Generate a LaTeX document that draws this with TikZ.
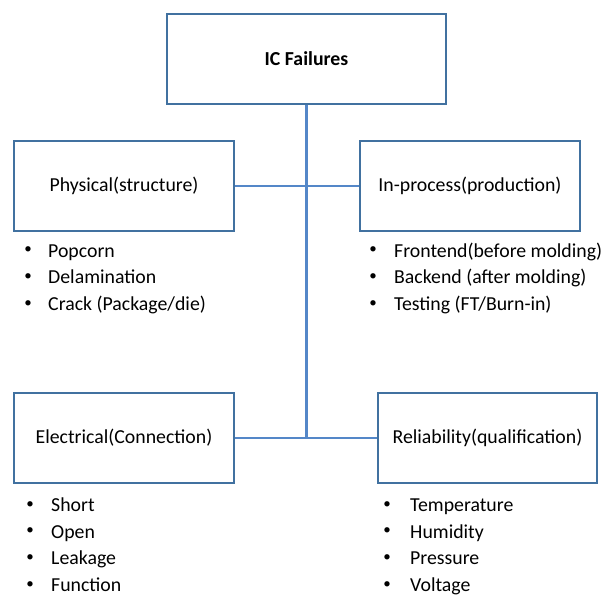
\documentclass[tikz,border=0pt]{standalone}
\usepackage{fontspec}
\setmainfont{Carlito}
\begin{document}
\begin{tikzpicture}[x=1pt,y=-1pt]
\definecolor{boxblue}{RGB}{65,113,160}
\definecolor{lineblue}{RGB}{84,135,200}
\tikzset{
  box/.style={draw=boxblue,line width=2pt,fill=white,minimum height=90pt,inner sep=0pt,
              font=\fontsize{19.8}{24}\selectfont},
  link/.style={draw=lineblue,line width=2.2pt},
  item/.style={anchor=base west,inner sep=0pt,font=\fontsize{19.8}{24}\selectfont},
  dot/.style={anchor=center,inner sep=0pt,yshift=6.8pt,font=\fontsize{15}{18}\selectfont},
}
\useasboundingbox (0,0) rectangle (613,596);
\fill[white] (0,0) rectangle (613,596);

% category boxes
\node[box,minimum width=279pt] (top) at (306.5,59) {\textbf{IC Failures}};
\node[box,minimum width=220pt] (phys) at (124,186) {Physical(structure)};
\node[box,minimum width=220pt] (proc) at (470,186) {In-process(production)};
\node[box,minimum width=220pt] (elec) at (124,438) {Electrical(Connection)};
\node[box,minimum width=219pt] (rel) at (487.5,438) {Reliability(qualification)};

% connectors
\coordinate (j) at (306.5,438);
\draw[link] (top.south) -- (j);
\draw[link] (phys.east) -- (proc.west);
\draw[link] (elec.east) -- (rel.west);

% physical failures
\node[dot] (p1b) at (28,257) {•};
\node[item] (p1) at (48,257) {Popcorn};
\node[dot] (p2b) at (28,283.7) {•};
\node[item] (p2) at (48,283.7) {Delamination};
\node[dot] (p3b) at (28,310.4) {•};
\node[item] (p3) at (48,310.4) {Crack (Package/die)};

% in-process failures
\node[dot] (q1b) at (373,257) {•};
\node[item] (q1) at (394,257) {Frontend(before molding)};
\node[dot] (q2b) at (373,283.7) {•};
\node[item] (q2) at (394,283.7) {Backend (after molding)};
\node[dot] (q3b) at (373,310.4) {•};
\node[item] (q3) at (394,310.4) {Testing (FT/Burn-in)};

% electrical failures
\node[dot] (e1b) at (30,511.5) {•};
\node[item] (e1) at (51,511.5) {Short};
\node[dot] (e2b) at (30,538.2) {•};
\node[item] (e2) at (51,538.2) {Open};
\node[dot] (e3b) at (30,564.9) {•};
\node[item] (e3) at (51,564.9) {Leakage};
\node[dot] (e4b) at (30,591.6) {•};
\node[item] (e4) at (51,591.6) {Function};

% reliability failures
\node[dot] (r1b) at (387,511.5) {•};
\node[item] (r1) at (410,511.5) {Temperature};
\node[dot] (r2b) at (387,538.2) {•};
\node[item] (r2) at (410,538.2) {Humidity};
\node[dot] (r3b) at (387,564.9) {•};
\node[item] (r3) at (410,564.9) {Pressure};
\node[dot] (r4b) at (387,591.6) {•};
\node[item] (r4) at (410,591.6) {Voltage};
\end{tikzpicture}
\end{document}
